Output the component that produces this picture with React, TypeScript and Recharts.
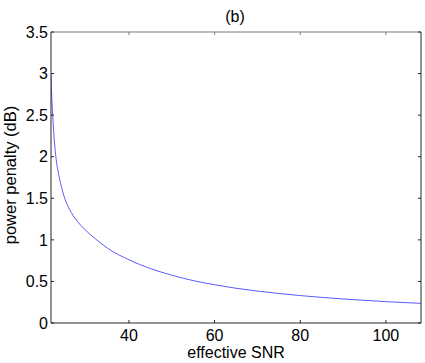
import { Label, Line, LineChart, XAxis, YAxis } from "recharts";

// values
const snrValues = [21.8, 21.9, 22.0, 22.2, 22.5, 23.0, 23.5, 24.0, 25.0, 26.0, 27.0, 28.0, 30.0, 32.0, 35.0, 40.0, 45.0, 50.0, 55.0, 60.0, 65.0, 70.0, 80.0, 90.0, 100.0, 108.2];
const penaltyValues = [3.0, 2.83, 2.7, 2.5, 2.25, 1.97, 1.81, 1.69, 1.5, 1.38, 1.29, 1.22, 1.11, 1.02, 0.9, 0.76, 0.655, 0.575, 0.51, 0.46, 0.418, 0.384, 0.33, 0.289, 0.257, 0.236];

const xTicks = [40, 60, 80, 100];
const yTicks = [0, 0.5, 1, 1.5, 2, 2.5, 3, 3.5];
const xDomain = [21.8, 108.2];
const yDomain = [0, 3.5];

const data = snrValues.map((snr, i) => ({ snr, penalty: penaltyValues[i] }));

const font = "'Liberation Sans', Arial, Helvetica, sans-serif";
const axisColor = "#262626";

export default function App() {
    return (
        <div style={{ position: "fixed", left: 0, top: 0, width: 425, height: 363, background: "#fff" }}>
            <LineChart
                width={425}
                height={363}
                data={data}
                margin={{ top: 31, right: 3, left: 11, bottom: 20 }}
                style={{ fontFamily: font }}
            >
                <XAxis
                    dataKey="snr"
                    type="number"
                    domain={xDomain}
                    ticks={xTicks}
                    allowDataOverflow
                    height={20}
                    tickSize={-3}
                    tickMargin={10}
                    stroke={axisColor}
                    tick={{ fill: "#000", fontSize: 16 }}
                >
                    <Label
                        content={() => (
                            <text x={236} y={358} textAnchor="middle" fontSize={16} fill="#000" fontFamily={font}>
                                effective SNR
                            </text>
                        )}
                    />
                </XAxis>
                <XAxis
                    xAxisId="top"
                    orientation="top"
                    dataKey="snr"
                    type="number"
                    domain={xDomain}
                    ticks={xTicks}
                    allowDataOverflow
                    height={1}
                    tickSize={-3}
                    tickFormatter={() => ""}
                    stroke="#7a7a7a"
                >
                    <Label
                        content={() => (
                            <text x={235} y={22} textAnchor="middle" fontSize={16} fill="#000" fontFamily={font}>
                                (b)
                            </text>
                        )}
                    />
                </XAxis>
                <YAxis
                    type="number"
                    domain={yDomain}
                    ticks={yTicks}
                    allowDataOverflow
                    width={40}
                    tickSize={-3}
                    tickMargin={6}
                    stroke={axisColor}
                    tick={{ fill: "#000", fontSize: 16 }}
                >
                    <Label
                        content={() => (
                            <text
                                x={16}
                                y={175}
                                transform="rotate(-90 16 175)"
                                textAnchor="middle"
                                fontSize={16.5}
                                fill="#000"
                                fontFamily={font}
                            >
                                power penalty (dB)
                            </text>
                        )}
                    />
                </YAxis>
                <YAxis
                    yAxisId="right"
                    orientation="right"
                    type="number"
                    domain={yDomain}
                    ticks={yTicks}
                    allowDataOverflow
                    width={1}
                    tickSize={-3}
                    tickFormatter={() => ""}
                    stroke={axisColor}
                />
                <Line
                    type="monotone"
                    dataKey="penalty"
                    stroke="#5c5cff"
                    strokeWidth={1}
                    dot={false}
                    isAnimationActive={false}
                />
                {/* keeps the top and right axes in use so the box is drawn */}
                <Line
                    xAxisId="top"
                    yAxisId="right"
                    dataKey="penalty"
                    stroke="none"
                    dot={false}
                    activeDot={false}
                    isAnimationActive={false}
                />
            </LineChart>
        </div>
    );
}
